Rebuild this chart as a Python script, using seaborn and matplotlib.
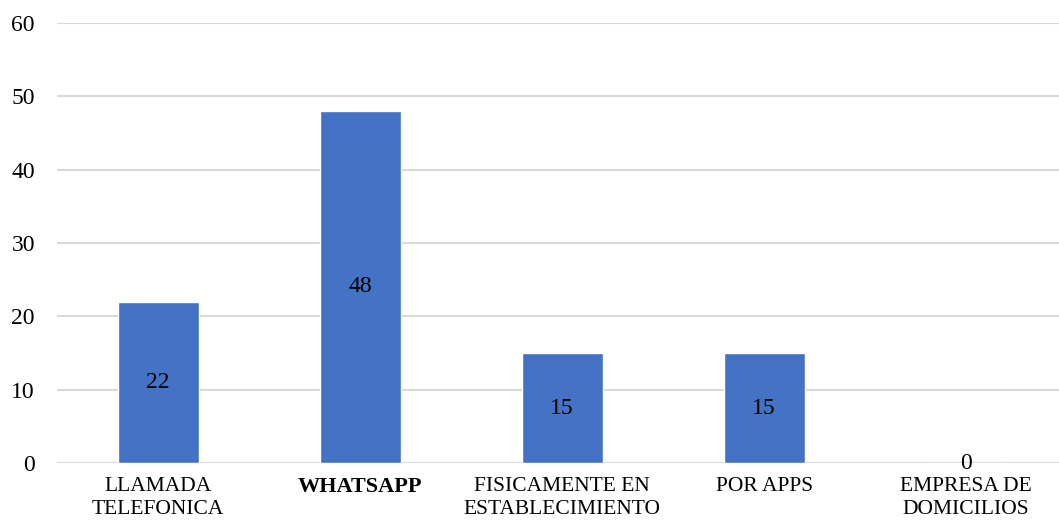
import matplotlib
matplotlib.use('Agg')
import matplotlib.pyplot as plt
import seaborn as sns
import pandas as pd

categorias = ['LLAMADA\nTELEFONICA', 'WHATSAPP', 'FISICAMENTE EN\nESTABLECIMIENTO',
              'POR APPS', 'EMPRESA DE\nDOMICILIOS']
valores = [22, 48, 15, 15, 0]
yticks = [0, 10, 20, 30, 40, 50, 60]

sns.set_style('white')
plt.rcParams['font.family'] = ['Liberation Serif', 'DejaVu Serif']
plt.rcParams['text.color'] = 'black'
plt.rcParams['xtick.color'] = 'black'
plt.rcParams['ytick.color'] = 'black'

df = pd.DataFrame({'medio': categorias, 'cantidad': valores})

fig = plt.figure(figsize=(10.59, 5.22), dpi=100)
ax = fig.add_axes([0.054, 0.113, 0.946, 0.843])

sns.barplot(data=df, x='medio', y='cantidad', color='#4472C4', width=0.4,
            saturation=1, ax=ax, zorder=3)
for c in ax.containers:
    ax.bar_label(c, label_type='center', fontsize=17, color='black')

ax.set_ylim(0, 60)
ax.set_yticks(yticks)
ax.set_xlim(-0.5, 4.46)
ax.yaxis.grid(True, color='#D9D9D9', linewidth=1.5, zorder=0)
ax.set_axisbelow(True)
for s in ax.spines.values():
    s.set_visible(False)
ax.axhline(0, color='#D9D9D9', linewidth=1.5, zorder=1)
ax.set_xlabel('')
ax.set_ylabel('')
ax.tick_params(axis='y', length=0, pad=16, labelsize=17)
ax.tick_params(axis='x', length=0, pad=10, labelsize=15.5)
for lbl in ax.get_xticklabels():
    lbl.set_linespacing(1.3)
    if lbl.get_text() == 'WHATSAPP':
        lbl.set_fontweight('bold')
        lbl.set_fontsize(16)

fig.savefig('out.png', dpi=100)
